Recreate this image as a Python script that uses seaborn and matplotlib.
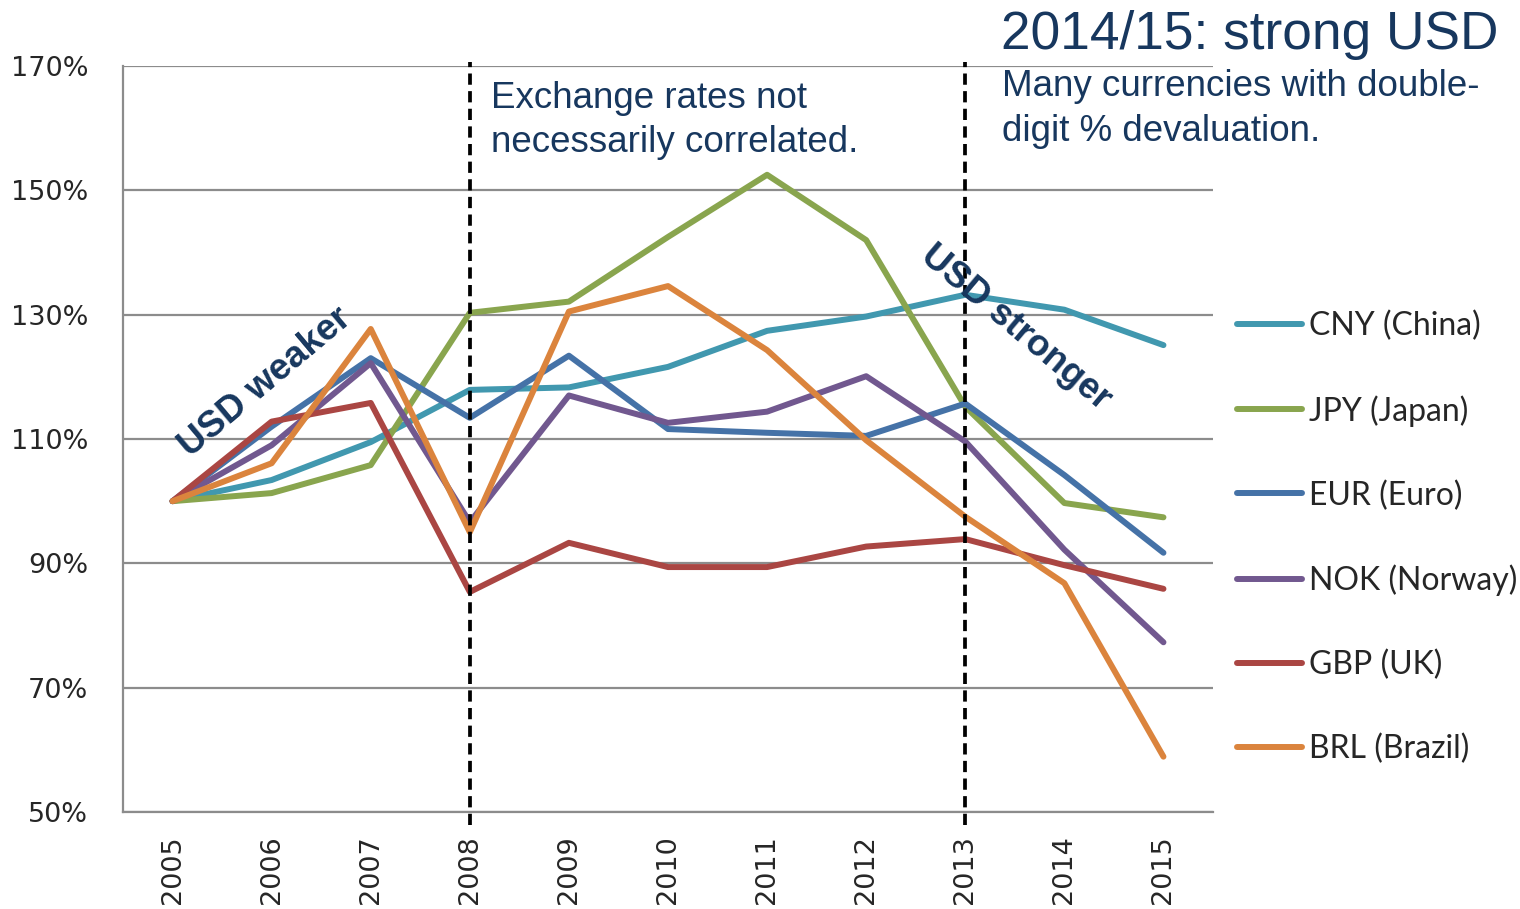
import numpy as np
import pandas as pd
import matplotlib
matplotlib.use("Agg")
import matplotlib.pyplot as plt
from matplotlib.ticker import PercentFormatter, FixedLocator
import seaborn as sns

# index of exchange rate vs USD, 2005 = 100%
years = list(range(2005, 2016))
cny = [100, 103.4, 109.5, 117.9, 118.3, 121.6, 127.4, 129.7, 133.2, 130.8, 125.1]
jpy = [100, 101.3, 105.8, 130.3, 132.1, 142.5, 152.5, 142.0, 115.2, 99.7, 97.4]
eur = [100, 112.0, 123.0, 113.4, 123.4, 111.6, 111.0, 110.5, 115.7, 104.2, 91.7]
nok = [100, 109.0, 122.2, 96.6, 117.0, 112.6, 114.4, 120.1, 109.6, 92.2, 77.3]
gbp = [100, 112.8, 115.8, 85.4, 93.3, 89.4, 89.4, 92.7, 93.9, 89.7, 85.9]
brl = [100, 106.1, 127.7, 95.0, 130.5, 134.6, 124.3, 109.8, 97.5, 86.8, 58.9]

labels = ["CNY (China)", "JPY (Japan)", "EUR (Euro)", "NOK (Norway)", "GBP (UK)", "BRL (Brazil)"]
colors = ["#4198AF", "#89A54E", "#4572A7", "#71588F", "#AA4643", "#DB843D"]
break_years = [2008, 2013]

series = [cny, jpy, eur, nok, gbp, brl]
df = pd.DataFrame({
    "year": years * len(labels),
    "value": np.concatenate(series),
    "currency": np.repeat(labels, len(years)),
})

NAVY = "#17375E"
GRID = "#8C8C8C"
LW = 4.3

sns.set_style("white")
plt.rcParams["font.family"] = ["DejaVu Sans"]

fig = plt.figure(figsize=(15.2, 9.09), dpi=100)
ax = fig.add_axes([123 / 1520, 1 - 812 / 909, 1090 / 1520, 746 / 909])

sns.lineplot(data=df, x="year", y="value", hue="currency", hue_order=labels,
             palette=dict(zip(labels, colors)), linewidth=LW, sort=False,
             ax=ax, solid_capstyle="round", solid_joinstyle="round")

ax.set_xlim(2004.5, 2015.5)
ax.set_ylim(50, 170)
ax.set_yticks(np.arange(50, 171, 20))
ax.yaxis.set_major_formatter(PercentFormatter(decimals=0))
ax.set_xticks(years)
ax.set_xticklabels([str(y) for y in years], rotation=90)
ax.xaxis.set_minor_locator(FixedLocator(np.arange(2004.5, 2016, 1)))
ax.set_xlabel("")
ax.set_ylabel("")

ax.tick_params(axis="x", which="major", length=0, pad=17, labelsize=19.5)
ax.tick_params(axis="x", which="minor", length=7.5, width=1.5, color=GRID, direction="out")
ax.tick_params(axis="y", length=8, width=1.5, color=GRID, direction="out", pad=17, labelsize=19.5)
ax.yaxis.grid(True, color=GRID, linewidth=1.6)
ax.set_axisbelow(True)
for side in ["top", "right"]:
    ax.spines[side].set_visible(False)
for side in ["left", "bottom"]:
    ax.spines[side].set_color(GRID)
    ax.spines[side].set_linewidth(1.6)

for yr in break_years:
    ax.axvline(yr, ymin=-0.018, ymax=1.006, color="black", linewidth=2.7,
               linestyle=(0, (3, 1.7)), clip_on=False, zorder=5)

leg = ax.legend(loc="center left", bbox_to_anchor=(1237 / 1520, 1 - 537.5 / 909),
                bbox_transform=fig.transFigure, frameon=False, borderpad=0,
                borderaxespad=0, handlelength=2.05, handletextpad=0.2,
                labelspacing=1.68, prop={"family": "Lato", "size": 23})
for h in leg.get_lines():
    h.set_linewidth(LW)
    h.set_solid_capstyle("round")

ann = dict(color=NAVY, family="Liberation Sans", va="baseline", ha="left")
fig.text(1001 / 1520, 1 - 49 / 909, "2014/15: strong USD", fontsize=38.3, **ann)
fig.text(1002 / 1520, 1 - 96 / 909, "Many currencies with double-", fontsize=26.5, **ann)
fig.text(1002 / 1520, 1 - 141 / 909, "digit % devaluation.", fontsize=26.5, **ann)
fig.text(491 / 1520, 1 - 108 / 909, "Exchange rates not", fontsize=26.5, **ann)
fig.text(491 / 1520, 1 - 152 / 909, "necessarily correlated.", fontsize=26.5, **ann)

bold = dict(color=NAVY, family="Liberation Sans", fontweight="bold", fontsize=26.5,
            ha="center", va="center", rotation_mode="anchor")
fig.text(265 / 1520, 1 - 382 / 909, "USD weaker", rotation=40, **bold)
fig.text(1016 / 1520, 1 - 328 / 909, "USD stronger", rotation=-40, **bold)

fig.savefig("out.png", dpi=100)
